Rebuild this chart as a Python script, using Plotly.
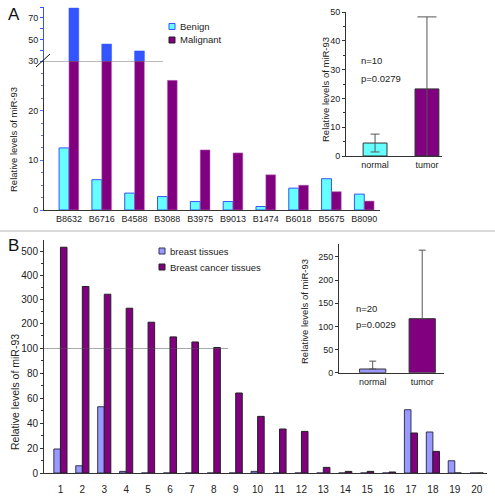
import plotly.graph_objects as go

W, H = 495, 500
FONT = "Liberation Sans, Arial, sans-serif"

# ---------------- data ----------------
a_samples = ["B8632", "B6716", "B4588", "B3088", "B3975", "B9013", "B1474", "B6018", "B5675", "B8090"]
a_benign = [12.5, 6.1, 3.4, 2.7, 1.7, 1.7, 0.7, 4.4, 6.3, 3.2]
a_malignant = [79.0, 45.7, 39.3, 26.1, 12.1, 11.5, 7.1, 5.0, 3.7, 1.8]

a_inset_cats = ["normal", "tumor"]
a_inset_vals = [4.5, 23.3]
a_inset_err = [3.1, 25.0]

b_cases = [str(i) for i in range(1, 21)]
b_normal = [19.2, 5.8, 53.0, 1.3, 0, 0, 0, 0, 0, 1.3, 0, 0, 0, 0, 0, 0, 50.6, 32.8, 9.8, 0]
b_tumor = [518, 355, 323, 265, 207, 146, 125, 102, 64, 45.3, 35.2, 33.3, 4.5, 1.3, 1.3, 0.8, 32.0, 17.3, 0, 0]

b_inset_cats = ["normal", "tumor"]
b_inset_vals = [8.0, 116.7]
b_inset_err = [17.0, 148.0]

legend_a = ["Benign", "Malignant"]
legend_b = ["breast tissues", "Breast cancer tissues"]

# ---------------- helpers ----------------
def px(x):
    return x / W

def py(y):
    return 1 - y / H

CYAN = "#66ffff"
BLUE = "#3355ff"
PURPLE = "#800080"
LAV = "#9999ff"

fig = go.Figure()

# ---- Panel A main ----
fig.add_trace(go.Bar(x=a_samples, y=a_benign, name=legend_a[0], width=0.3, offset=-0.3,
                     marker=dict(color=CYAN, line=dict(color=BLUE, width=1)),
                     xaxis="x", yaxis="y", showlegend=False))
fig.add_trace(go.Bar(x=a_samples, y=a_malignant, name=legend_a[1], width=0.3, offset=0,
                     marker=dict(color=PURPLE, line=dict(color="#c080c0", width=0.5)),
                     xaxis="x", yaxis="y", showlegend=False))
fig.add_trace(go.Bar(x=a_samples, y=a_malignant, name=legend_a[1] + " (>30)", width=0.3, offset=0,
                     marker=dict(color=BLUE, line=dict(color=BLUE, width=0.5)),
                     xaxis="x2", yaxis="y2", showlegend=False))

# ---- Panel A inset ----
a_inset_colors = [CYAN, PURPLE]
a_caps = [4.5, 9.5]
for i in range(2):
    fig.add_trace(go.Bar(x=[a_inset_cats[i]], y=[a_inset_vals[i]], width=0.46, name=a_inset_cats[i],
                         marker=dict(color=a_inset_colors[i], line=dict(color="#333333", width=1)),
                         error_y=dict(type="data", array=[a_inset_err[i]], symmetric=True,
                                      color="#555555", thickness=1, width=a_caps[i]),
                         xaxis="x3", yaxis="y3", showlegend=False))

# ---- Panel B main ----
fig.add_trace(go.Bar(x=b_cases, y=b_normal, name=legend_b[0], width=0.3, offset=-0.3,
                     marker=dict(color=LAV, line=dict(color="#333355", width=1)),
                     xaxis="x4", yaxis="y4", showlegend=False))
fig.add_trace(go.Bar(x=b_cases, y=b_tumor, name=legend_b[1], width=0.3, offset=0,
                     marker=dict(color=PURPLE, line=dict(color="#222222", width=1)),
                     xaxis="x4", yaxis="y4", showlegend=False))
fig.add_trace(go.Bar(x=b_cases, y=b_tumor, name=legend_b[1] + " (>100)", width=0.3, offset=0,
                     marker=dict(color=PURPLE, line=dict(color="#222222", width=1)),
                     xaxis="x5", yaxis="y5", showlegend=False))

# ---- Panel B inset ----
b_inset_colors = [LAV, PURPLE]
for i in range(2):
    fig.add_trace(go.Bar(x=[b_inset_cats[i]], y=[b_inset_vals[i]], width=0.53, name=b_inset_cats[i],
                         marker=dict(color=b_inset_colors[i], line=dict(color="#333333", width=1)),
                         error_y=dict(type="data", array=[b_inset_err[i]], arrayminus=[0],
                                      symmetric=False, color="#555555", thickness=1, width=3.5),
                         xaxis="x6", yaxis="y6", showlegend=False))

tickfont9 = dict(family=FONT, size=9, color="#222")
tickfont10 = dict(family=FONT, size=10, color="#222")

common_y = dict(showgrid=False, zeroline=False, showline=True, ticks="outside", ticklen=3,
                automargin=False)

fig.update_layout(
    width=W, height=H, margin=dict(l=0, r=0, t=0, b=0, autoexpand=False),
    paper_bgcolor="white", plot_bgcolor="rgba(0,0,0,0)", showlegend=False,
    barmode="overlay", font=dict(family=FONT, size=9, color="#222"),
    # Panel A main
    xaxis=dict(domain=[px(44), px(380)], anchor="y", type="category", range=[-0.76, 9.48],
               showline=True, linecolor="#333", showgrid=False, ticks="", tickfont=tickfont9,
               automargin=False),
    yaxis=dict(domain=[py(210), py(61)], anchor="x", range=[0, 30], tickvals=[0, 10, 20],
               linecolor="#333", tickcolor="#5577ff", tickfont=tickfont9,
               minor=dict(dtick=2.5, ticks="outside", ticklen=2, tickcolor="#5577ff"), **common_y),
    xaxis2=dict(domain=[px(44), px(380)], anchor="y2", type="category", range=[-0.76, 9.48],
                visible=False, automargin=False),
    yaxis2=dict(domain=[py(61), py(7)], anchor="x2", range=[30, 80], tickvals=[30, 50, 70],
                linecolor=BLUE, tickcolor=BLUE, tickfont=tickfont9,
                minor=dict(dtick=10, ticks="outside", ticklen=3, tickcolor=BLUE), **common_y),
    # Panel A inset
    xaxis3=dict(domain=[px(346), px(442)], anchor="y3", type="category", range=[-0.56, 1.29],
                showline=True, linecolor="#333", showgrid=False, ticks="", tickfont=tickfont9,
                automargin=False),
    yaxis3=dict(domain=[py(156), py(12)], anchor="x3", range=[0, 50], dtick=10,
                linecolor="#333", tickcolor="#333", tickfont=tickfont9,
                minor=dict(dtick=5, ticks="outside", ticklen=2, tickcolor="#333"), **common_y),
    # Panel B main
    xaxis4=dict(domain=[px(44), px(487)], anchor="y4", type="category", range=[-0.75, 19.47],
                showline=True, linecolor="#333", showgrid=False, ticks="", tickfont=tickfont10,
                ticklabelstandoff=7, automargin=False),
    yaxis4=dict(domain=[py(473), py(348)], anchor="x4", range=[0, 100], tickvals=[0, 20, 40, 60, 80],
                linecolor="#333", tickcolor="#333", tickfont=tickfont10,
                minor=dict(dtick=10, ticks="outside", ticklen=2, tickcolor="#333"), **common_y),
    xaxis5=dict(domain=[px(44), px(487)], anchor="y5", type="category", range=[-0.75, 19.47],
                visible=False, automargin=False),
    yaxis5=dict(domain=[py(348), py(240)], anchor="x5", range=[100, 548],
                tickvals=[100, 200, 300, 400, 500],
                linecolor="#333", tickcolor="#333", tickfont=tickfont10,
                minor=dict(dtick=50, ticks="outside", ticklen=2, tickcolor="#333"), **common_y),
    # Panel B inset
    xaxis6=dict(domain=[px(339), px(444)], anchor="y6", type="category", range=[-0.68, 1.44],
                showline=True, linecolor="#333", showgrid=False, ticks="", tickfont=tickfont9,
                automargin=False),
    yaxis6=dict(domain=[py(372.7), py(244)], anchor="x6", range=[0, 278], dtick=50,
                linecolor="#333", tickcolor="#333", tickfont=tickfont9, **common_y),
)

# break lines
fig.add_shape(type="line", xref="x", yref="y", x0=-0.76, x1=2.87, y0=30, y1=30,
              line=dict(color="#777", width=1))
fig.add_shape(type="line", xref="paper", yref="paper", x0=px(36), y0=py(67), x1=px(50), y1=py(54),
              line=dict(color="#111", width=1))
fig.add_shape(type="line", xref="x4", yref="y4", x0=-0.75, x1=7.65, y0=100, y1=100,
              line=dict(color="#555", width=1))
# panel separator
fig.add_shape(type="line", xref="paper", yref="paper", x0=0, x1=1, y0=py(231), y1=py(231),
              line=dict(color="#cccccc", width=1.5))

# manual legends (small square keys)
leg_items = [
    (legend_a[0], 169, 26.5, CYAN, BLUE),
    (legend_a[1], 169, 40, PURPLE, "#222"),
    (legend_b[0], 159, 251, LAV, "#333355"),
    (legend_b[1], 159, 267, PURPLE, "#222"),
]
for text, lx, ly, fill, edge in leg_items:
    fig.add_shape(type="rect", xref="paper", yref="paper",
                  x0=px(lx), x1=px(lx + 6), y0=py(ly + 3), y1=py(ly - 3),
                  fillcolor=fill, line=dict(color=edge, width=1))
    fig.add_annotation(xref="paper", yref="paper", showarrow=False, text=text,
                       x=px(lx + 9), y=py(ly), xanchor="left", yanchor="middle",
                       font=dict(family=FONT, size=9.5, color="#222"))

ann = [
    dict(text="A", x=px(6), y=py(14), font=dict(size=17, family=FONT, color="#111"), xanchor="left"),
    dict(text="B", x=px(6), y=py(245), font=dict(size=17, family=FONT, color="#111"), xanchor="left"),
    dict(text="Relative levels of miR-93", x=px(13), y=py(140), textangle=-90, font=dict(size=9.5)),
    dict(text="Relative levels of miR-93", x=px(15), y=py(392), textangle=-90, font=dict(size=10.5)),
    dict(text="Relative levels of miR-93", x=px(326), y=py(90), textangle=-90, font=dict(size=9.5)),
    dict(text="Relative levels of miR-93", x=px(304), y=py(312), textangle=-90, font=dict(size=9.5)),
    dict(text="n=10", x=px(359), y=py(60), xanchor="left", font=dict(size=9.5)),
    dict(text="p=0.0279", x=px(359), y=py(78), xanchor="left", font=dict(size=9.5)),
    dict(text="n=20", x=px(354), y=py(308), xanchor="left", font=dict(size=9.5)),
    dict(text="p=0.0029", x=px(354), y=py(324), xanchor="left", font=dict(size=9.5)),
]
for a in ann:
    a.setdefault("xanchor", "center")
    fig.add_annotation(xref="paper", yref="paper", showarrow=False, yanchor="middle", **a)

# remove the browser's default 8px body margin so the 495x500 figure fills the window exactly
fig.write_html("out.html", config={"displayModeBar": False},
               post_script="document.body.style.margin='0';document.body.style.overflow='hidden';")
